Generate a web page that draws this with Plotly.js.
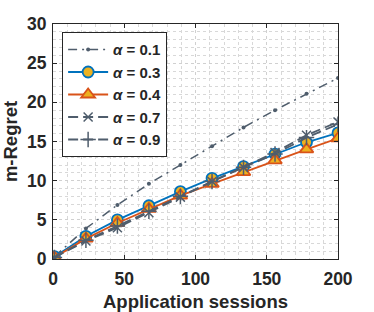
<!DOCTYPE html>
<html>
<head>
<meta charset="utf-8">
<script src="https://cdn.plot.ly/plotly-3.0.1.min.js"></script>
<style>html,body{margin:0;padding:0;background:#fff;}#chart{width:374px;height:312px;}</style>
</head>
<body>
<div id="chart"></div>
<script>
const sessions = [1, 23.1, 45.2, 67.3, 89.4, 111.6, 133.7, 155.8, 177.9, 200];
const regretA01 = [0.3, 3.9, 6.9, 9.6, 12.0, 14.4, 16.8, 19.0, 21.1, 23.1];
const regretA03 = [0.3, 2.9, 5.0, 6.8, 8.6, 10.3, 11.8, 13.4, 14.9, 16.1];
const regretA04 = [0.2, 2.6, 4.6, 6.4, 8.1, 9.6, 11.1, 12.6, 14.0, 15.4];
const regretA07 = [0.2, 2.3, 4.0, 5.9, 7.9, 9.9, 11.7, 13.6, 15.8, 17.5];
const regretA09 = [0.2, 2.4, 4.2, 6.1, 8.0, 9.9, 11.7, 13.4, 15.5, 17.2];
const seriesNames = ['0.1', '0.3', '0.4', '0.7', '0.9'];

const gray = '#4f5d6c';
const blue = '#0072BD';
const orange = '#D95319';
const yellow = '#EDB120';
const nm = a => '<b><i>α</i> = ' + a + '</b>';

const traces = [
  {x: sessions, y: regretA01, name: nm(seriesNames[0]), mode: 'lines+markers',
   line: {color: gray, width: 1.5, dash: '9px,5px,2px,5px'},
   marker: {symbol: 'circle', size: 4, color: gray}},
  {x: sessions, y: regretA03, name: nm(seriesNames[1]), mode: 'lines+markers',
   line: {color: blue, width: 1.8},
   marker: {symbol: 'circle', size: 11, color: yellow, line: {color: blue, width: 1.8}}},
  {x: sessions, y: regretA04, name: nm(seriesNames[2]), mode: 'lines+markers',
   line: {color: orange, width: 1.8},
   marker: {symbol: 'triangle-up', size: 12, color: yellow, line: {color: orange, width: 1.8}}},
  {x: sessions, y: regretA07, name: nm(seriesNames[3]), mode: 'lines+markers',
   line: {color: gray, width: 1.8, dash: '10px,5px'},
   marker: {symbol: 'x-thin', size: 9, color: gray, line: {color: gray, width: 1.5}}},
  {x: sessions, y: regretA09, name: nm(seriesNames[4]), mode: 'lines+markers',
   line: {color: gray, width: 1.8, dash: '10px,5px'},
   marker: {symbol: 'cross-thin', size: 11, color: gray, line: {color: gray, width: 1.5}}}
];

const axisCommon = {
  showline: true, linecolor: '#262626', linewidth: 1, mirror: 'ticks',
  ticks: 'inside', ticklen: 4, tickcolor: '#262626',
  showgrid: true, gridcolor: '#d0d0d0', griddash: 'dot', gridwidth: 1,
  zeroline: false,
  tickfont: {family: 'Liberation Sans, Arial, sans-serif', size: 17.5, color: '#262626', weight: 'bold'}
};

const layout = {
  width: 374, height: 312,
  margin: {l: 53, r: 36, t: 24, b: 53},
  paper_bgcolor: '#fff', plot_bgcolor: '#fff',
  font: {family: 'Liberation Sans, Arial, sans-serif', color: '#262626'},
  showlegend: true,
  legend: {
    x: 0.032, y: 0.965, xanchor: 'left', yanchor: 'top',
    bgcolor: '#fff', bordercolor: '#262626', borderwidth: 1,
    font: {family: 'Liberation Sans, Arial, sans-serif', size: 15, color: '#262626'},
    tracegroupgap: 0, itemwidth: 40
  },
  xaxis: Object.assign({}, axisCommon, {
    range: [0, 200], tickvals: [0, 50, 100, 150, 200],
    ticklabelstandoff: 4,
    minor: {dtick: 10, showgrid: true, gridcolor: '#d8d8d8', griddash: 'dot', gridwidth: 1, ticks: ''},
    title: {text: '<b>Application sessions</b>', font: {size: 18.5, color: '#262626'}, standoff: 8}
  }),
  yaxis: Object.assign({}, axisCommon, {
    range: [0, 30], tickvals: [0, 5, 10, 15, 20, 25, 30],
    ticklabelstandoff: 2,
    minor: {dtick: 1, showgrid: true, gridcolor: '#d8d8d8', griddash: 'dot', gridwidth: 1, ticks: ''},
    title: {text: '<b>m-Regret</b>', font: {size: 18.5, color: '#262626'}, standoff: 4}
  })
};

Plotly.newPlot('chart', traces, layout, {displayModeBar: false, staticPlot: true});
</script>
</body>
</html>
